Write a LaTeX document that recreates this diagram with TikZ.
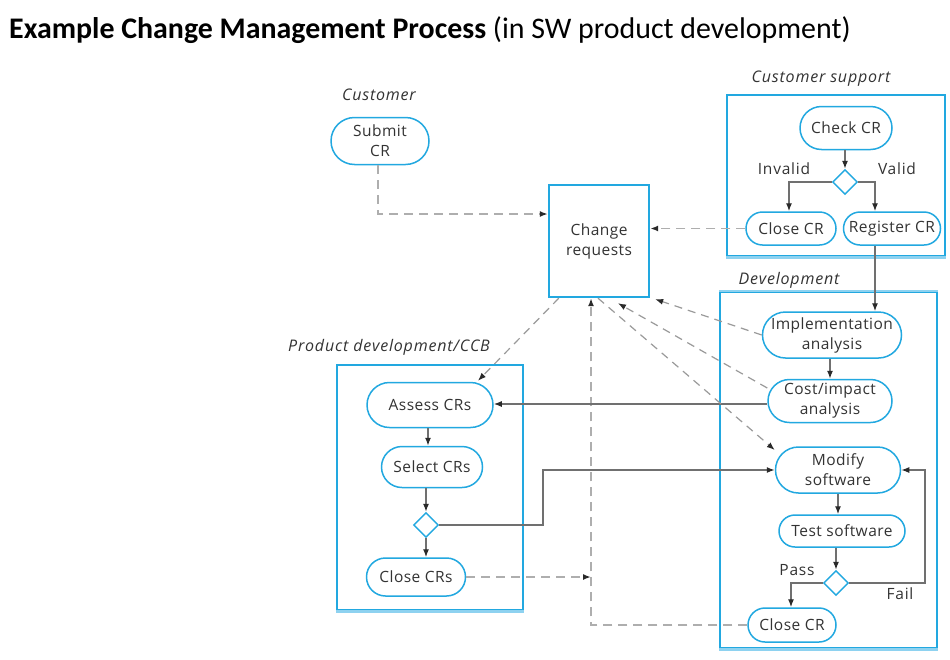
\documentclass[tikz,border=0pt]{standalone}
\usepackage{fontspec}
\setmainfont{Open Sans}
\newfontfamily\titlefont{Carlito}
\usetikzlibrary{shapes.geometric,shapes.misc,arrows.meta,calc}
\definecolor{cblue}{HTML}{22A8E0}
\definecolor{cbluel}{HTML}{8ED2F0}
\definecolor{txt}{HTML}{333333}
\definecolor{lgray}{HTML}{707070}
\definecolor{dgray}{HTML}{AEAEAE}
\definecolor{ggray}{HTML}{9A9A9A}
\definecolor{tipc}{HTML}{2A2A2A}
\begin{document}
\begin{tikzpicture}[x=1pt,y=-1pt,
  every node/.style={text=txt},
  pill/.style={rounded rectangle, draw=cblue, line width=1.5pt, align=center, inner sep=1pt,
    font=\fontsize{15.5}{20}\selectfont\addfontfeature{LetterSpace=3}},
  box/.style={draw=cblue, line width=2.4pt, inner sep=0pt},
  dmd/.style={diamond, draw=cblue, line width=1.4pt, minimum width=25pt, minimum height=25pt, inner sep=0pt},
  lbl/.style={font=\fontsize{16}{18}\selectfont\itshape\addfontfeature{LetterSpace=5}, inner sep=1pt},
  cond/.style={font=\fontsize{15.5}{18}\selectfont\addfontfeature{LetterSpace=5}, inner sep=1pt},
  arr/.style={draw=lgray, line width=1.3pt, -{Latex[length=8pt,width=6pt,color=tipc]}},
  dasharr/.style={draw=dgray, line width=1.7pt, dash pattern=on 9pt off 6pt, -{Latex[length=8pt,width=6pt,color=tipc]}},
  diagarr/.style={draw=ggray, line width=1.2pt, dash pattern=on 8pt off 6pt, -{Latex[length=8pt,width=6pt,color=tipc]}}
]
\useasboundingbox (0,0) rectangle (950,659);
\fill[white] (0,0) rectangle (950,659);

% title
\node[anchor=west, inner sep=0pt, text=black] (title) at (9,30)
  {\titlefont\fontsize{29.9}{32}\selectfont\bfseries Example Change Management Process \mdseries(in SW product development)};

% containers
\node[box, minimum width=218pt, minimum height=161pt] (csbox) at (836,175.5) {};
\node[box, minimum width=217pt, minimum height=356pt] (devbox) at (828.5,470) {};
\node[box, minimum width=186pt, minimum height=245pt] (pdbox) at (430,487.5) {};
\draw[cbluel, line width=2.6pt] (csbox.south west) -- (csbox.south east);
\draw[cbluel, line width=2.6pt] (devbox.south west) -- (devbox.south east);
\draw[cbluel, line width=2.6pt] (pdbox.south west) -- (pdbox.south east);
\draw[cbluel, line width=2.6pt] (devbox.north west) -- (devbox.north east);

% labels
\node[lbl] (lcust) at (379,95) {Customer};
\node[lbl] (lcs) at (821,79) {Customer support};
\node[lbl] (ldev) at (789,280) {Development};
\node[lbl] (lpd) at (389,347) {Product development/CCB};

% nodes
\node[pill, minimum width=100pt, minimum height=47pt] (submit) at (380,141) {Submit\\CR};
\node[box, minimum width=100pt, minimum height=112pt, align=center, font=\fontsize{15.5}{20}\selectfont\addfontfeature{LetterSpace=3}] (change) at (599,241) {Change\\requests};

\node[pill, minimum width=94pt, minimum height=43pt] (check) at (846,128) {Check CR};
\node[dmd] (d1) at (845,182) {};
\node[pill, minimum width=92pt, minimum height=33pt] (closecs) at (791,228.5) {Close CR};
\node[pill, minimum width=99pt, minimum height=33pt] (register) at (892,228.5) {Register CR};
\node[cond] (inv) at (784,169) {Invalid};
\node[cond] (val) at (897,169) {Valid};

\node[pill, minimum width=141pt, minimum height=46pt] (impl) at (832,335) {Implementation\\analysis};
\node[pill, minimum width=126pt, minimum height=43pt] (cost) at (830,401) {Cost/impact\\analysis};
\node[pill, minimum width=127pt, minimum height=46pt] (modify) at (838,470) {Modify\\software};
\node[pill, minimum width=128pt, minimum height=32pt] (test) at (842,531) {Test software};
\node[dmd] (d2) at (836,583) {};
\node[pill, minimum width=90pt, minimum height=34pt] (closedev) at (792,625) {Close CR};
\node[cond] (pass) at (797,570) {Pass};
\node[cond] (fail) at (900,594) {Fail};

\node[pill, minimum width=128pt, minimum height=45pt] (assess) at (430,405) {Assess CRs};
\node[pill, minimum width=103pt, minimum height=41pt] (select) at (432,467) {Select CRs};
\node[dmd] (d3) at (426,525) {};
\node[pill, minimum width=101pt, minimum height=38pt] (closepd) at (416,577) {Close CRs};

% helper coordinates
\coordinate (rs) at ($(register.south)+(-17,0)$);
\coordinate (cb) at ($(change.south)+(-8,0)$);
\coordinate (failc) at (925,583);
\coordinate (selc) at (543,525);

% customer support flows
\draw[arr] (d1.north |- check.south) -- (d1.north);
\draw[arr] (d1.west) -| ($(closecs.north)+(-2,0)$);
\draw[arr] (d1.east) -| ($(register.north)+(-17,0)$);
\draw[dasharr] (closecs.west) -- (closecs.west -| change.east);
\draw[dasharr] (submit.south -| 378,0) |- (change.west |- 0,214);
\draw[arr] (rs) -- (rs |- impl.north);

% development flows
\draw[arr] (cost.north |- impl.south) -- (cost.north);
\draw[arr] (modify.south) -- (modify.south |- test.north);
\draw[arr] (d2.north |- test.south) -- (d2.north);
\draw[arr] (d2.west) -| ($(closedev.north)+(-1,0)$);
\draw[arr] (d2.east) -- (failc) |- (modify.east);
\draw[dasharr] (closedev.west) -| (cb);
\draw[arr] (cost.west |- 0,404) -- (assess.east |- 0,404);

% product development flows
\draw[arr] ($(assess.south)+(-2,0)$) -- ($(select.north)+(-4,0)$);
\draw[arr] (d3.north |- select.south) -- (d3.north);
\draw[arr] (d3.south) -- (d3.south |- closepd.north);
\draw[arr] (d3.east) -- (selc) |- (modify.west);
\draw[dasharr] (closepd.east) -- (closepd.east -| cb);

% diagonal dashed
\draw[diagarr] ($(change.south west)+(11,0)$) -- ($(assess.north)+(48,-1)$);
\draw[diagarr] (impl.west) -- ($(change.south east)+(5,1)$);
\draw[diagarr] ($(cost.west)+(0,-13)$) -- ($(change.south)+(19,5)$);
\draw[diagarr] ($(change.south)+(-1,0)$) -- ($(modify.west)+(0,-20)$);
\end{tikzpicture}
\end{document}
